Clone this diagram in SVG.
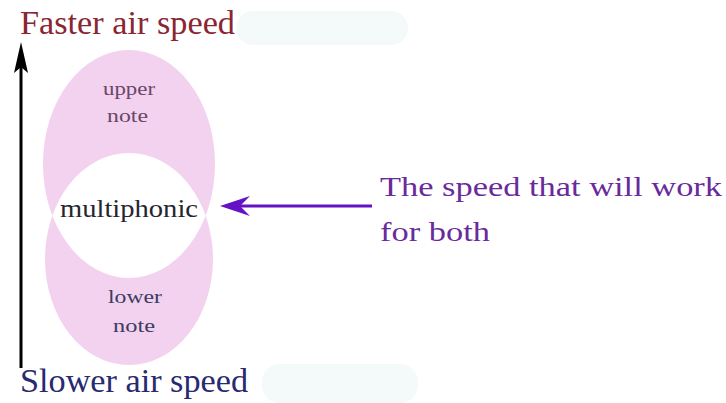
<svg xmlns="http://www.w3.org/2000/svg" width="726" height="403" viewBox="0 0 726 403">
<style>
.t{font-family:"Liberation Serif","Times New Roman",serif}
</style>
<rect width="726" height="403" fill="#fff"/>
<g id="bg" fill="#f4f9f9">
<rect x="236" y="11" width="172" height="34" rx="17"/>
<rect x="262" y="364" width="156" height="39" rx="18"/>
</g>
<g id="ellipses">
<path d="M43 164 a86 114 0 1 0 172 0 a86 114 0 1 0 -172 0 Z M45 259 a84 106 0 1 0 168 0 a84 106 0 1 0 -168 0 Z" fill="#f2d2ef" fill-rule="evenodd"/>
</g>
<g id="connectors">
<line x1="21" y1="368" x2="21" y2="62" stroke="#000" stroke-width="3"/>
<path d="M21 42 L28 73 L21 67 L14 73 Z" fill="#000"/>
<line x1="372" y1="206" x2="236" y2="206" stroke="#6412c4" stroke-width="3"/>
<path d="M220 206 L250 196 L240 206 L250 216 Z" fill="#6412c4"/>
</g>
<g id="faster"><text class="t" x="20" y="34" font-size="34" fill="#8a2532" textLength="215" lengthAdjust="spacingAndGlyphs">Faster air speed</text></g>
<g id="slower"><text class="t" x="20" y="392" font-size="33" fill="#282a70" textLength="228" lengthAdjust="spacingAndGlyphs">Slower air speed</text></g>
<g id="upper"><text class="t" x="103" y="95" font-size="19" fill="#6a4668" textLength="52" lengthAdjust="spacingAndGlyphs">upper</text><text class="t" x="107" y="122" font-size="19" fill="#6a4668" textLength="41" lengthAdjust="spacingAndGlyphs">note</text></g>
<g id="multiphonic"><text class="t" x="60" y="217" font-size="25" fill="#252530" textLength="138" lengthAdjust="spacingAndGlyphs">multiphonic</text></g>
<g id="lower"><text class="t" x="108" y="303" font-size="19" fill="#3c3c62" textLength="54" lengthAdjust="spacingAndGlyphs">lower</text><text class="t" x="113" y="332" font-size="19" fill="#3c3c62" textLength="42" lengthAdjust="spacingAndGlyphs">note</text></g>
<g id="label"><text class="t" x="380" y="196" font-size="28" fill="#6a2a9c" textLength="342" lengthAdjust="spacingAndGlyphs">The speed that will work</text><text class="t" x="380" y="241" font-size="28" fill="#6a2a9c" textLength="110" lengthAdjust="spacingAndGlyphs">for both</text></g>
</svg>
